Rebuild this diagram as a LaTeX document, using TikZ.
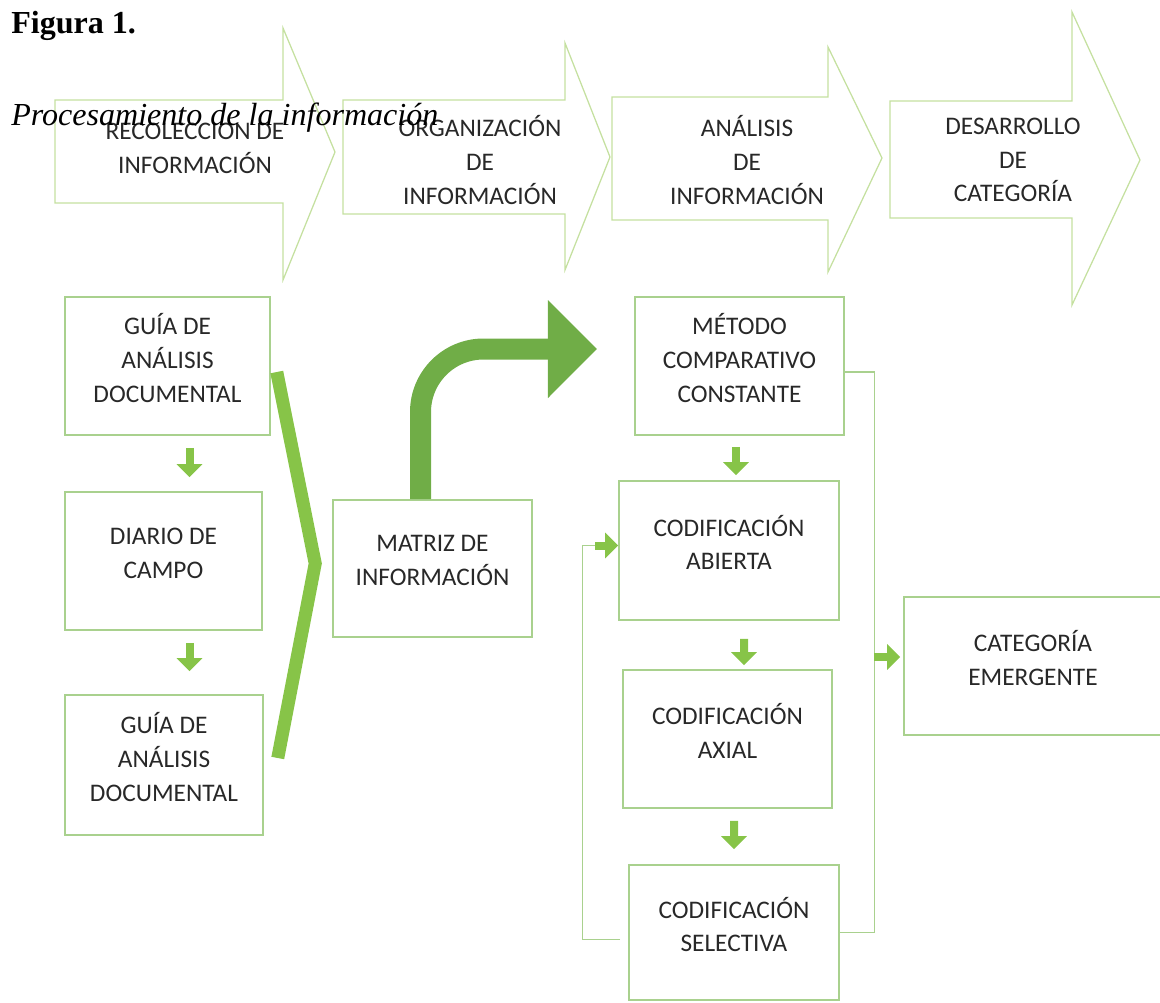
\documentclass[tikz,border=0pt]{standalone}
\usepackage{fontspec}
\setmainfont{Carlito}
\newfontfamily\captionfont{Liberation Serif}
\usetikzlibrary{arrows.meta,calc}

\definecolor{boxgreen}{RGB}{169,209,142}
\definecolor{stagegreen}{RGB}{197,224,160}
\definecolor{lightgreen}{RGB}{135,196,72}
\definecolor{darkgreen}{RGB}{112,173,71}
\definecolor{textgray}{RGB}{40,40,40}

\begin{document}
\begin{tikzpicture}[x=0.025cm, y=0.025cm,
                    every node/.style={text=textgray, font=\fontsize{18}{24}\selectfont},
                    stage/.style={draw=stagegreen, line width=0.9pt, line join=miter},
                    stagetext/.style={align=center, inner sep=0pt},
                    infobox/.style={draw=boxgreen, line width=1.1pt, align=center, inner sep=0pt, text depth=0.4cm},
                    size/.style 2 args={minimum width=#1*0.025cm, minimum height=#2*0.025cm},
                    smallflow/.style={draw=lightgreen, line width=0.2cm, -{Triangle[width=0.625cm,length=0.325cm]}},
                    loopline/.style={draw=boxgreen, line width=0.9pt},
                    bigflow/.style={draw=darkgreen, line width=0.525cm, rounded corners=1.575cm, -{Triangle[width=2.375cm,length=1.225cm]}},
                    brace/.style={draw=lightgreen, line width=0.325cm, line join=miter}
]
\useasboundingbox (0,0) rectangle (1160,-1002);
%
% stages
\draw [stage] (55,-100) -| (283,-28) -- (335,-152) -- (283,-280) |- (55,-203) -- cycle;
\draw [stage] (343,-100) -| (565,-43) -- (610,-157) -- (565,-270) |- (343,-214) -- cycle;
\draw [stage] (612,-97) -| (828,-47) -- (882,-158) -- (828,-272) |- (612,-220) -- cycle;
\draw [stage] (890,-101) -| (1072,-12) -- (1140,-160) -- (1072,-305) |- (890,-218) -- cycle;
\node [stagetext] at (195,-148) (recoleccion) {RECOLECCION DE\\INFORMACIÓN};
\node [stagetext] at (480,-160) (organizacion) {ORGANIZACIÓN\\DE\\INFORMACIÓN};
\node [stagetext] at (747,-160) (analisis) {ANÁLISIS\\DE\\INFORMACIÓN};
\node [stagetext] at (1013,-160) (desarrollo) {DESARROLLO\\DE\\CATEGORÍA};
%
% instrumentos
\node [infobox, size={205}{138}] at (167.5,-366) (guia1) {GUÍA DE\\ANÁLISIS\\DOCUMENTAL};
\node [infobox, size={197}{138}] at (163.5,-561) (diario) {DIARIO DE\\CAMPO};
\node [infobox, size={198}{140}] at (164,-765) (guia2) {GUÍA DE\\ANÁLISIS\\DOCUMENTAL};
\node [infobox, size={199}{137}] at (432.5,-568.5) (matriz) {MATRIZ DE\\INFORMACIÓN};
%
% analisis
\node [infobox, size={209}{138}] at (739.5,-366) (metodo) {MÉTODO\\COMPARATIVO\\CONSTANTE};
\node [infobox, size={220}{139}] at (729,-550.5) (abierta) {CODIFICACIÓN\\ABIERTA};
\node [infobox, size={209}{138}] at (727.5,-739) (axial) {CODIFICACIÓN\\AXIAL};
\node [infobox, size={210}{135}] at (734,-932.5) (selectiva) {CODIFICACIÓN\\SELECTIVA};
\node [infobox, size={258}{138}] at (1033,-666) (categoria) {CATEGORÍA\\EMERGENTE};
%
\draw [smallflow] ($(guia1.south)+(22,-12)$) -- ($(diario.north)+(26,14)$);
\draw [smallflow] ($(diario.south)+(26,-12)$) -- ($(guia2.north)+(25.5,23)$);
\draw [brace] ($(guia1.east)+(6,-6)$) -- ($(matriz.west)+(-17,5)$) -- ($(guia2.east)+(14,7)$);
\coordinate (flowtip) at (597,-349);
\draw [bigflow] ($(matriz.north)+(-12,0)$) |- (flowtip);
%
\draw [smallflow] ($(metodo.south)+(-3.5,-11)$) -- ($(abierta.north)+(7,5)$);
\draw [smallflow] ($(abierta.south)+(15,-18)$) -- ($(axial.north)+(16.5,4)$);
\draw [smallflow] ($(axial.south)+(6.5,-12)$) -- ($(selectiva.north)+(0,15)$);
%
\draw [loopline] ($(selectiva.west)+(-8,-7)$) -| ($(abierta.west)+(-36,5)$) -- ($(abierta.west)+(-23,5)$);
\draw [smallflow] ($(abierta.west)+(-23,5)$) -- ($(abierta.west)+(0,5)$);
\draw [loopline] ($(metodo.east)+(0,-6)$) -- ++(30,0) |- (selectiva.east);
\draw [smallflow] ($(categoria.west)+(-29,9)$) -- ($(categoria.west)+(-3,9)$);
%
\node [anchor=base west, inner sep=0pt, text=black, font=\captionfont\bfseries\fontsize{22.8}{27}\selectfont] at (11,-33) (figura) {Figura 1.};
\node [anchor=base west, inner sep=0pt, text=black, font=\captionfont\itshape\fontsize{22.8}{27}\selectfont] at (11,-125) (titulo) {Procesamiento de la información};
\end{tikzpicture}
\end{document}
